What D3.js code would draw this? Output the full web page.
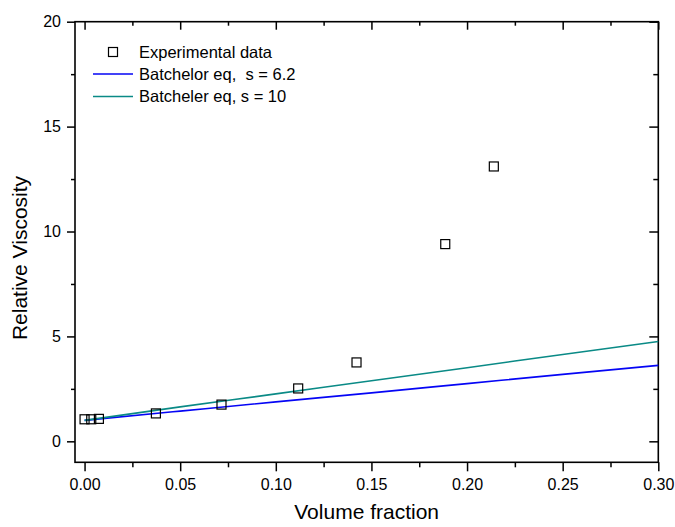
<!DOCTYPE html>
<html>
<head>
<meta charset="utf-8">
<script src="https://cdn.jsdelivr.net/npm/d3@7"></script>
<style>
  html, body { margin: 0; padding: 0; background: #fff; }
  svg text { font-family: "Liberation Sans", Arial, sans-serif; fill: #000; }
</style>
</head>
<body>
<svg id="chart" width="675" height="527"></svg>
<script>
// Measured relative viscosity vs. volume fraction
const expPhi = [0, 0.0035, 0.0075, 0.0373, 0.0716, 0.1117, 0.1422, 0.1886, 0.214];
const expEta = [1.05, 1.05, 1.07, 1.33, 1.75, 2.52, 3.76, 9.40, 13.1];

// Model curves sampled along the volume-fraction axis
const curvePhi = [0, 0.05, 0.1, 0.15, 0.2, 0.25, 0.3];
const batchelorEta = [1.0, 1.44, 1.88, 2.31, 2.75, 3.19, 3.62];
const batchelerEta = [1.0, 1.64, 2.26, 2.89, 3.51, 4.14, 4.76];

const xTicks = [0, 0.05, 0.1, 0.15, 0.2, 0.25, 0.3];
const yTicks = [0, 5, 10, 15, 20];
const xMinor = [0.025, 0.075, 0.125, 0.175, 0.225, 0.275];
const yMinor = [2.5, 7.5, 12.5, 17.5];

const legendLabels = ["Experimental data", "Batchelor eq,  s = 6.2", "Batcheler eq, s = 10"];
const colors = { batchelor: "#0505f5", batcheler: "#0a8a86" };

const svg = d3.select("#chart");
const L = 75, R = 658.3, T = 21.7, B = 462.3;

const x = d3.scaleLinear().domain([-0.005, 0.3]).range([L, R]);
const y = d3.scaleLinear().domain([-1, 20]).range([B, T]);

const axisStyle = g => {
  g.select(".domain").remove();
  g.selectAll(".tick line").attr("stroke", "#000").attr("stroke-width", 1.5);
  g.selectAll(".tick text").style("font-size", "16px");
};

// Bottom axis (outward ticks with labels)
svg.append("g").attr("transform", `translate(0,${B})`)
  .call(d3.axisBottom(x).tickValues(xTicks).tickSize(9).tickPadding(7).tickFormat(d3.format(".2f")))
  .call(axisStyle);
svg.append("g").attr("transform", `translate(0,${B})`)
  .call(d3.axisBottom(x).tickValues(xMinor).tickSize(5).tickFormat(""))
  .call(axisStyle);

// Top axis (inward ticks)
svg.append("g").attr("transform", `translate(0,${T})`)
  .call(d3.axisTop(x).tickValues(xTicks).tickSize(-8).tickFormat(""))
  .call(axisStyle);
svg.append("g").attr("transform", `translate(0,${T})`)
  .call(d3.axisTop(x).tickValues(xMinor).tickSize(-4).tickFormat(""))
  .call(axisStyle);

// Left axis (outward ticks with labels)
svg.append("g").attr("transform", `translate(${L},0)`)
  .call(d3.axisLeft(y).tickValues(yTicks).tickSize(8).tickPadding(6).tickFormat(d3.format("d")))
  .call(axisStyle);
svg.append("g").attr("transform", `translate(${L},0)`)
  .call(d3.axisLeft(y).tickValues(yMinor).tickSize(4).tickFormat(""))
  .call(axisStyle);

// Right axis (inward ticks)
svg.append("g").attr("transform", `translate(${R},0)`)
  .call(d3.axisRight(y).tickValues(yTicks).tickSize(-9).tickFormat(""))
  .call(axisStyle);
svg.append("g").attr("transform", `translate(${R},0)`)
  .call(d3.axisRight(y).tickValues(yMinor).tickSize(-5).tickFormat(""))
  .call(axisStyle);

// Plot frame
svg.append("rect")
  .attr("x", L).attr("y", T).attr("width", R - L).attr("height", B - T)
  .attr("fill", "none").attr("stroke", "#000").attr("stroke-width", 1.6);

// Axis titles
svg.append("text")
  .attr("x", (L + R) / 2).attr("y", 519)
  .attr("text-anchor", "middle").style("font-size", "21px")
  .text("Volume fraction");
svg.append("text")
  .attr("transform", "translate(27,258) rotate(-90)")
  .attr("text-anchor", "middle").style("font-size", "21px")
  .text("Relative Viscosity");

// Model curves
const line = d3.line().x(d => x(d[0])).y(d => y(d[1])).curve(d3.curveMonotoneX);
svg.append("path")
  .datum(curvePhi.map((p, i) => [p, batchelorEta[i]]))
  .attr("d", line).attr("fill", "none")
  .attr("stroke", colors.batchelor).attr("stroke-width", 1.6);
svg.append("path")
  .datum(curvePhi.map((p, i) => [p, batchelerEta[i]]))
  .attr("d", line).attr("fill", "none")
  .attr("stroke", colors.batcheler).attr("stroke-width", 1.6);

// Experimental points (open squares)
const sq = 9;
svg.append("g").selectAll("rect")
  .data(expPhi.map((p, i) => [p, expEta[i]]))
  .join("rect")
  .attr("x", d => x(d[0]) - sq / 2).attr("y", d => y(d[1]) - sq / 2)
  .attr("width", sq).attr("height", sq)
  .attr("fill", "none").attr("stroke", "#000").attr("stroke-width", 1.2);

// Legend
const lg = svg.append("g");
const rowY = [52, 74, 96.5];
lg.append("rect")
  .attr("x", 113 - sq / 2).attr("y", rowY[0] - sq / 2)
  .attr("width", sq).attr("height", sq)
  .attr("fill", "none").attr("stroke", "#000").attr("stroke-width", 1.2);
lg.append("line")
  .attr("x1", 93).attr("x2", 133).attr("y1", rowY[1]).attr("y2", rowY[1])
  .attr("stroke", colors.batchelor).attr("stroke-width", 1.6);
lg.append("line")
  .attr("x1", 93).attr("x2", 133).attr("y1", rowY[2]).attr("y2", rowY[2])
  .attr("stroke", colors.batcheler).attr("stroke-width", 1.6);
lg.selectAll("text.lab")
  .data(legendLabels)
  .join("text")
  .attr("class", "lab")
  .attr("x", 139).attr("y", (d, i) => rowY[i])
  .attr("dy", "0.35em")
  .attr("xml:space", "preserve")
  .style("white-space", "pre")
  .style("font-size", "16.5px")
  .text(d => d);
</script>
</body>
</html>
